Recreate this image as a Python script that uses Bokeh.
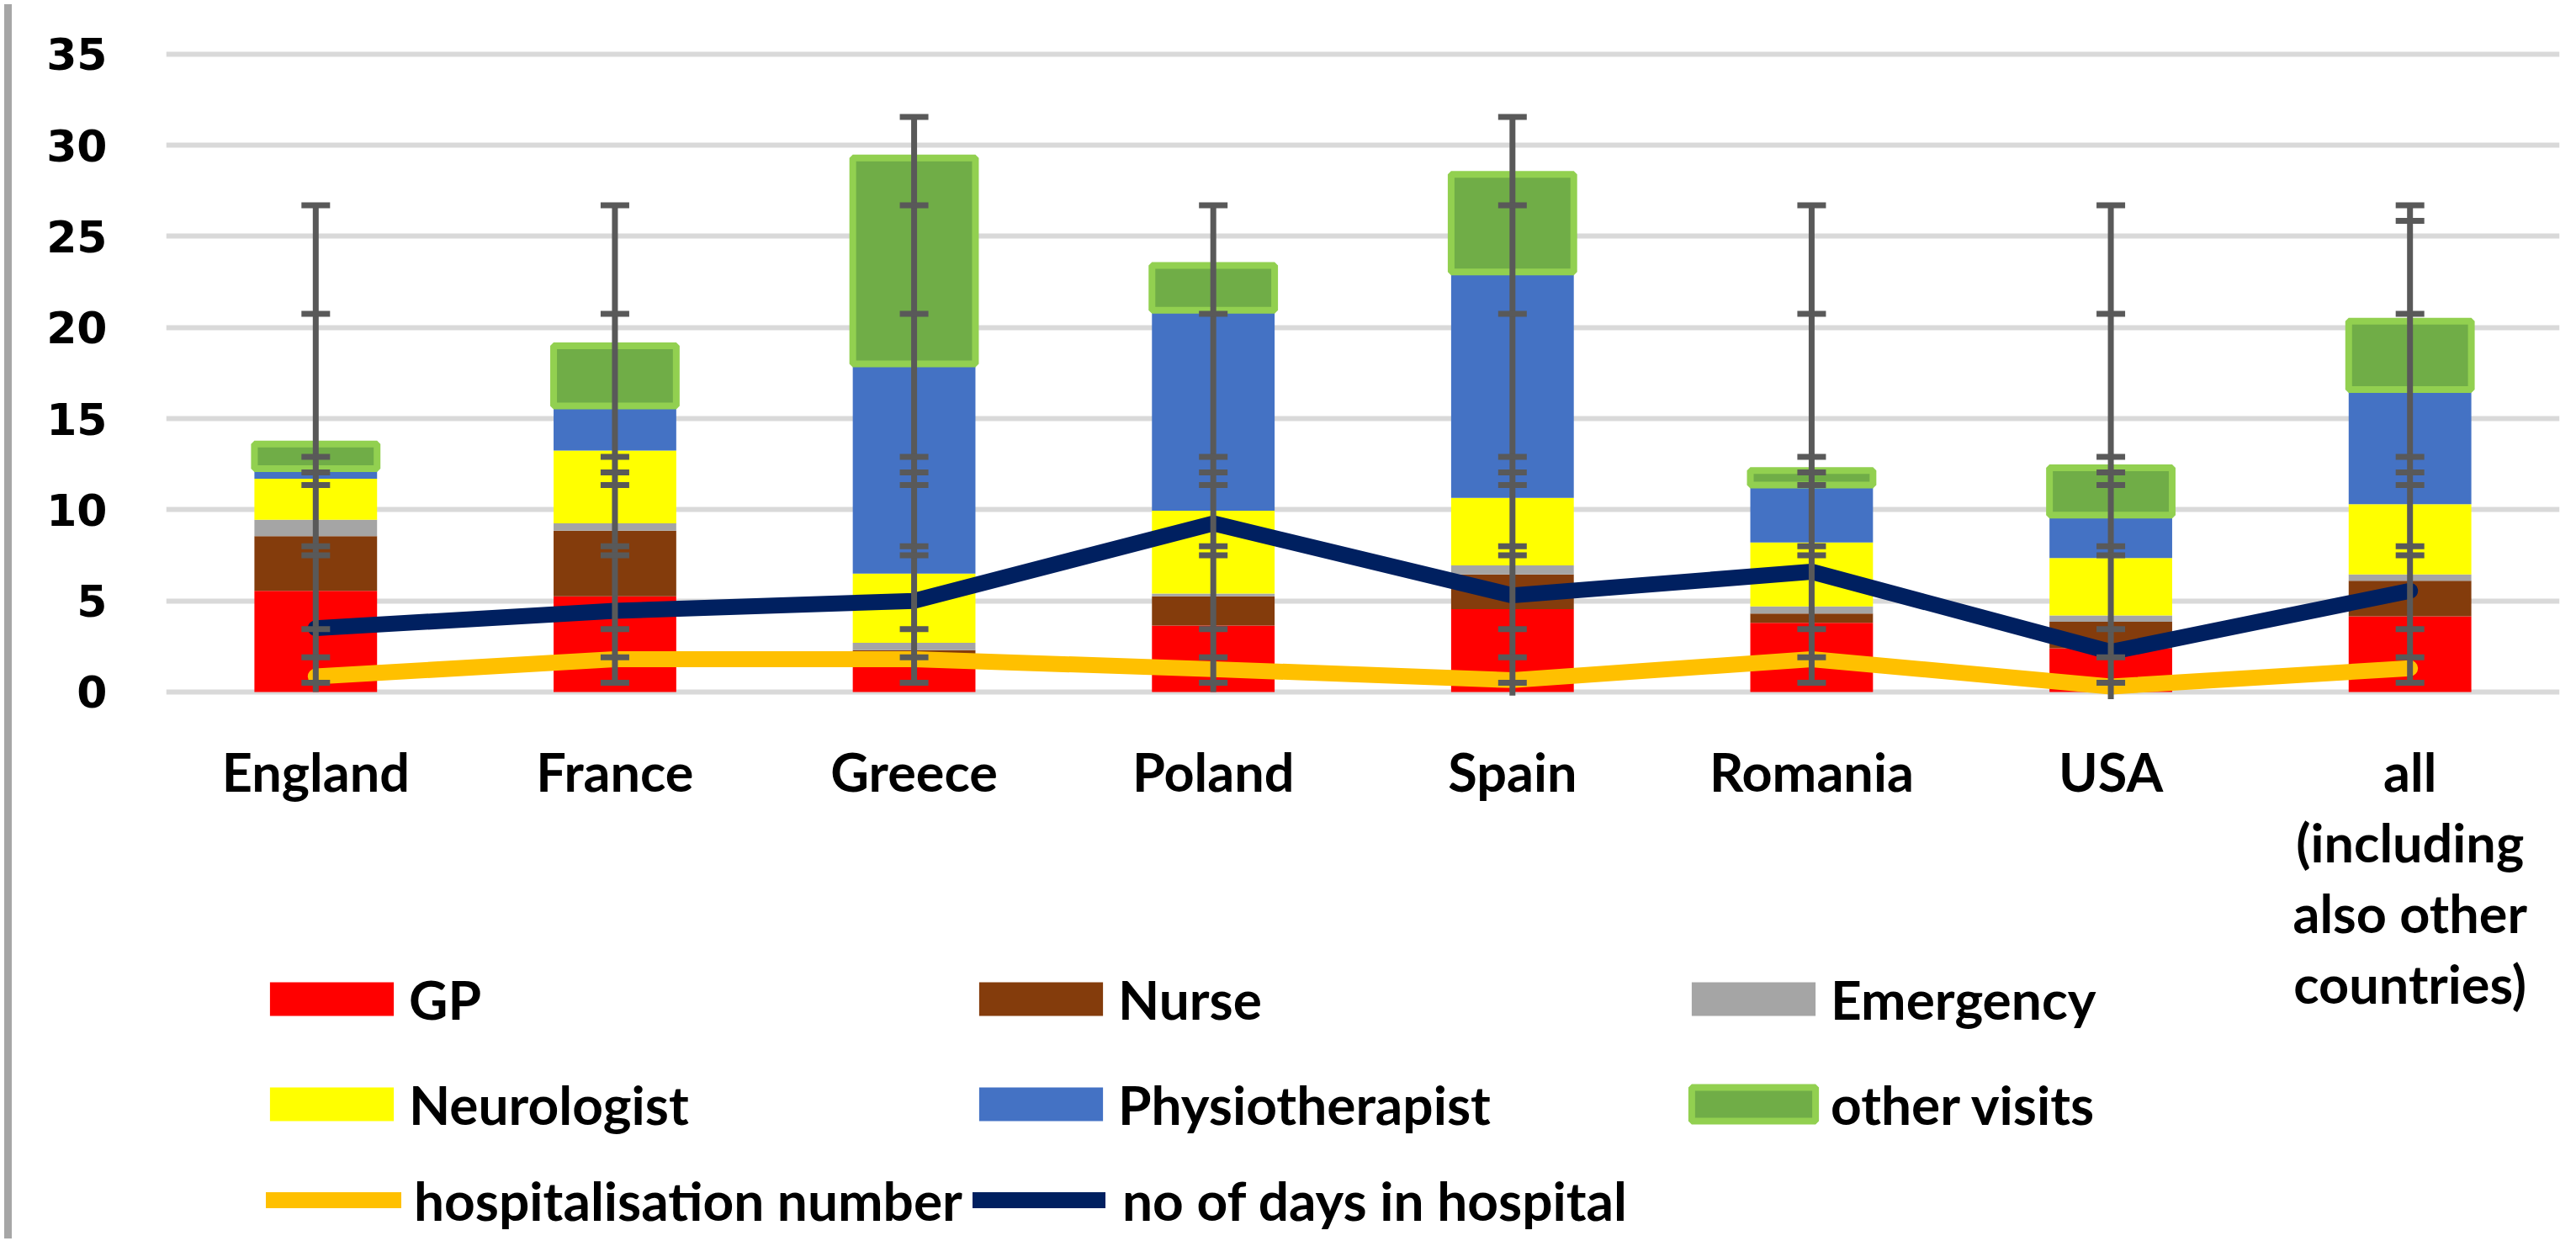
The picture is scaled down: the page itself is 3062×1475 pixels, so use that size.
import numpy as np
from bokeh.plotting import figure
from bokeh.models import FactorRange, Range1d, FixedTicker, Legend, LegendItem, Div
from bokeh.layouts import row
from bokeh.embed import file_html
from bokeh.resources import INLINE
from bokeh.core.properties import value

# ---------------- data ----------------
countries = ["England", "France", "Greece", "Poland", "Spain", "Romania", "USA", "all"]
country_labels = ["England", "France", "Greece", "Poland", "Spain", "Romania", "USA",
                  "all\n(including\nalso other\ncountries)"]

gp = [5.55, 5.25, 1.8, 3.65, 4.55, 3.8, 2.4, 4.15]
nurse = [3.0, 3.6, 0.5, 1.6, 1.9, 0.5, 1.45, 1.95]
emergency = [0.9, 0.4, 0.4, 0.15, 0.5, 0.4, 0.35, 0.35]
neurologist = [2.25, 4.0, 3.8, 4.55, 3.7, 3.5, 3.15, 3.85]
physiotherapist = [0.55, 2.45, 11.5, 11.0, 12.4, 3.15, 2.35, 6.3]
other_visits = [1.35, 3.3, 11.3, 2.45, 5.35, 0.8, 2.6, 3.75]

hospitalisation_number = [0.85, 1.8, 1.8, 1.25, 0.65, 1.8, 0.3, 1.3]
days_in_hospital = [3.5, 4.45, 5.0, 9.25, 5.3, 6.6, 2.2, 5.55]

# error bar cap levels (same for every country) plus extra caps
error_caps_common = [0.5, 1.9, 3.45, 7.5, 8.0, 11.35, 12.05, 12.9, 20.75, 26.7]
error_caps_extra = {"Greece": [31.55], "Spain": [31.55], "all": [25.85]}
error_low = [0.0, 0.5, 0.5, 0.0, -0.2, 0.5, -0.4, 0.5]

y_ticks = [0, 5, 10, 15, 20, 25, 30, 35]

series_names = ["GP", "Nurse", "Emergency", "Neurologist", "Physiotherapist", "other visits"]
series_values = [gp, nurse, emergency, neurologist, physiotherapist, other_visits]
series_colors = ["#ff0000", "#843c0c", "#a5a5a5", "#ffff00", "#4472c4", "#70ad47"]

# ---------------- figure ----------------
# the frame reaches the bottom of the figure so that the category labels and
# legends (drawn below the value 0) are not clipped
FIG_H = 1467
p = figure(
    x_range=FactorRange(*countries, range_padding=0),
    y_range=Range1d(-29.78, 35.5),
    width=3037, height=FIG_H,
    min_border_left=178, min_border_right=14,
    min_border_top=53, min_border_bottom=0,
    toolbar_location=None, output_backend="svg",
)
p.outline_line_color = None
p.background_fill_color = "white"
p.border_fill_color = "white"

p.xgrid.grid_line_color = None
p.ygrid.grid_line_color = "#d9d9d9"
p.ygrid.grid_line_width = 6
p.yaxis.ticker = FixedTicker(ticks=y_ticks)
p.xaxis.visible = False

ax = p.yaxis[0]
ax.axis_line_color = None
ax.major_tick_line_color = None
ax.minor_tick_line_color = None
ax.major_tick_out = 0
ax.major_tick_in = 0
ax.minor_tick_out = 0
ax.major_label_text_font = "DejaVu Sans"
ax.major_label_text_font_style = "bold"
ax.major_label_text_font_size = "52px"
ax.major_label_text_color = "black"
ax.major_label_standoff = 70

# category labels below the bars
p.text(x=countries, y=[-2.6] * len(countries), text=country_labels,
       text_align="center", text_baseline="top", text_font=value("Lato"),
       text_font_style="bold", text_font_size="63px", text_color="black",
       text_line_height=1.12)

# stacked bars
bar_width = 0.41
bottoms = np.zeros(len(countries))
bar_renderers = []
for name, vals, col in zip(series_names, series_values, series_colors):
    tops = bottoms + np.array(vals)
    if name == "other visits":
        r = p.vbar(x=countries, bottom=bottoms, top=tops, width=bar_width,
                   fill_color=col, line_color="#92d050", line_width=8)
    else:
        r = p.vbar(x=countries, bottom=bottoms, top=tops, width=bar_width,
                   fill_color=col, line_color=None)
    bar_renderers.append(r)
    bottoms = tops

# lines
r_hosp = p.line(countries, hospitalisation_number, line_color="#ffc000", line_width=19,
                line_cap="round", line_join="round")
r_days = p.line(countries, days_in_hospital, line_color="#002060", line_width=19,
                line_cap="round", line_join="round")

# error bars
cap_x, cap_y, err_top = [], [], []
for c in countries:
    caps = error_caps_common + error_caps_extra.get(c, [])
    cap_x += [c] * len(caps)
    cap_y += caps
    err_top.append(max(caps))
p.segment(x0=countries, y0=error_low, x1=countries, y1=err_top,
          line_color="#595959", line_width=7)
p.scatter(x=cap_x, y=cap_y, marker="dash", size=34, line_color="#595959", line_width=7)

# ---------------- legends ----------------
ITEM_H = 80
FRAME_BOTTOM = FIG_H + 8        # frame bottom in page pixels
def make_legend(items, x_off, top_px, glyph_w, glyph_h, standoff):
    n = len(items)
    gap = 45
    h = n * ITEM_H + (n - 1) * gap
    loc_y = FRAME_BOTTOM - (top_px + h)
    return Legend(items=items, location=(x_off, loc_y),
                  orientation="vertical", spacing=gap, padding=0, margin=0,
                  glyph_width=glyph_w, glyph_height=glyph_h, label_height=ITEM_H,
                  label_standoff=standoff, label_text_font="Lato",
                  label_text_font_style="bold", label_text_font_size="64px",
                  label_text_color="black", border_line_color=None,
                  background_fill_alpha=0)

br = bar_renderers
row1_top = 1155
row3_top = 1394
legends = [
    make_legend([LegendItem(label="GP", renderers=[br[0]]),
                 LegendItem(label="Neurologist", renderers=[br[3]])], 105, row1_top, 184, 50, 0),
    make_legend([LegendItem(label="Nurse", renderers=[br[1]]),
                 LegendItem(label="Physiotherapist", renderers=[br[4]])], 948, row1_top, 184, 50, 0),
    make_legend([LegendItem(label="Emergency", renderers=[br[2]]),
                 LegendItem(label="other visits", renderers=[br[5]])], 1795, row1_top, 184, 50, 0),
    make_legend([LegendItem(label="hospitalisation number", renderers=[r_hosp])],
                119, row3_top, 161, 40, 15),
    make_legend([LegendItem(label="no of days in hospital", renderers=[r_days])],
                959, row3_top, 158, 40, 20),
]
for lg in legends:
    p.add_layout(lg)

strip = Div(text="", width=9, height=FIG_H, styles={"background-color": "#a6a6a6"})
layout = row(strip, p, spacing=0)

open("out.html", "w").write(file_html(layout, INLINE))
